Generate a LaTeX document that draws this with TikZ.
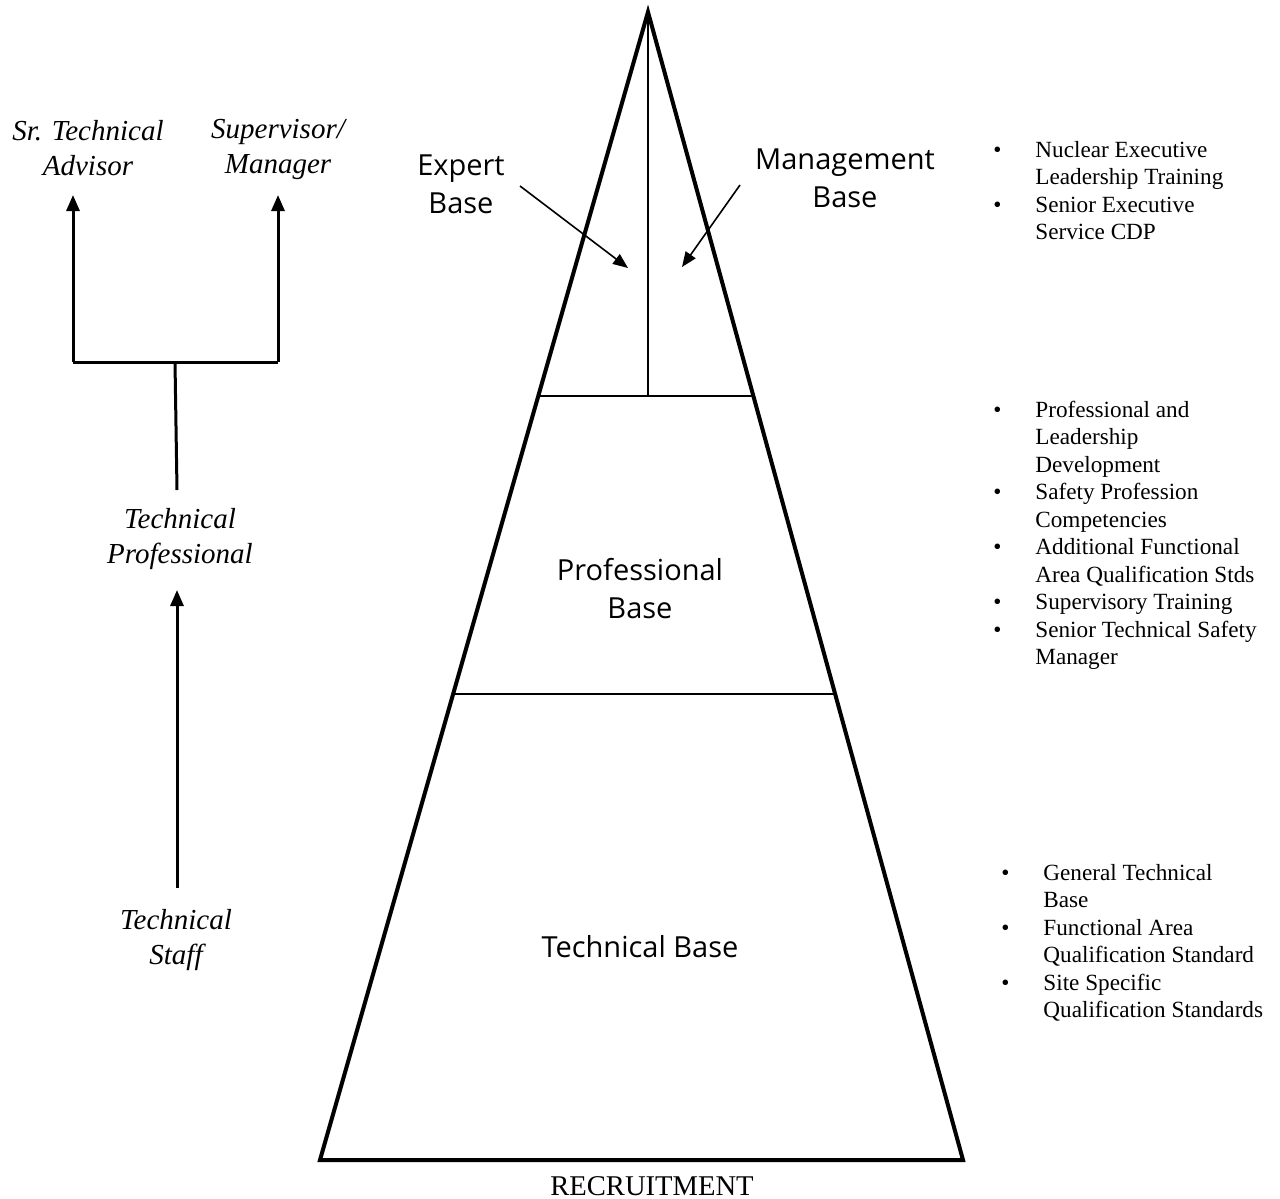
\documentclass[tikz,border=0pt]{standalone}
\usepackage{fontspec}
\setmainfont{Liberation Serif}
\newfontfamily\basefont{Open Sans}
\usetikzlibrary{arrows.meta}

\tikzset{
  rung/.style={font=\fontsize{14.5}{17.5}\selectfont\itshape, align=center},
  tier/.style={font=\basefont\fontsize{14.5}{19}\selectfont, align=center},
  itemlist/.style={font=\fontsize{11.6}{13.75}\selectfont, anchor=base west, inner sep=0pt},
  careerarrow/.style={line width=1.5pt, -{Triangle[length=8pt,width=6.5pt]}},
  pointer/.style={line width=0.8pt, -{Triangle[length=7.5pt,width=6pt]}},
}

\begin{document}
\begin{tikzpicture}[x=0.5pt,y=-0.5pt]
\useasboundingbox (0,0) rectangle (1280,1199);

% pyramid
\coordinate (apex) at (648,12);
\coordinate (bl) at (320,1160);
\coordinate (br) at (963,1160);
\draw[line width=2pt, line join=miter] (apex) -- (bl) -- (br) -- cycle;
\draw[line width=1pt] (538,396) -- (753,396);
\draw[line width=1pt] (453,694) -- (835,694);
\draw[line width=1pt] (apex) -- (648,396);

\node[tier] (expert) at (461,184) {Expert\\Base};
\node[tier] (mgmt) at (845,178) {Management\\Base};
\node[tier] (profbase) at (640,589) {Professional\\Base};
\node[tier] (techbase) at (640,947) {Technical Base};
\node[font=\fontsize{14.3}{16}\selectfont] (recruit) at (652,1186) {RECRUITMENT};

\coordinate (expTail) at (520,186);
\coordinate (expTip) at (628,268);
\coordinate (mgmtTail) at (740,185);
\coordinate (mgmtTip) at (682,267);
\draw[pointer] (expTail) -- (expTip);
\draw[pointer] (mgmtTail) -- (mgmtTip);

% career path
\node[rung] (advisor) at (88,148) {Sr. Technical\\Advisor};
\node[rung] (manager) at (278,149) {Supervisor/\\Manager};
\node[rung] (techprof) at (180,539) {Technical\\Professional};
\node[rung] (staff) at (176,940) {Technical\\Staff};

\coordinate (jl) at (73,362);
\coordinate (jr) at (278,362);
\coordinate (jm) at (175,362);
\coordinate (advTip) at (73,195);
\coordinate (mgrTip) at (278,195);
\coordinate (profTop) at (177,490);
\coordinate (staffTop) at (177,888);
\coordinate (profTip) at (177,590);

\draw[line width=1.5pt] (jl) -- (jr);
\draw[careerarrow] (jl) -- (advTip);
\draw[careerarrow] (jr) -- (mgrTip);
\draw[line width=1.5pt] (profTop) -- (jm);
\draw[careerarrow] (staffTop) -- (profTip);

% training lists
\node[itemlist] (exectrain) at (993,157) {%
  \begin{tabular}[t]{@{}p{21pt}@{}l@{}}
  \textbullet & Nuclear Executive\\
              & Leadership Training\\
  \textbullet & Senior Executive\\
              & Service CDP
  \end{tabular}};
\node[itemlist] (proftrain) at (993,417) {%
  \begin{tabular}[t]{@{}p{21pt}@{}l@{}}
  \textbullet & Professional and\\
              & Leadership\\
              & Development\\
  \textbullet & Safety Profession\\
              & Competencies\\
  \textbullet & Additional Functional\\
              & Area Qualification Stds\\
  \textbullet & Supervisory Training\\
  \textbullet & Senior Technical Safety\\
              & Manager
  \end{tabular}};
\node[itemlist] (techtrain) at (1001,880) {%
  \begin{tabular}[t]{@{}p{21pt}@{}l@{}}
  \textbullet & General Technical\\
              & Base\\
  \textbullet & Functional Area\\
              & Qualification Standard\\
  \textbullet & Site Specific\\
              & Qualification Standards
  \end{tabular}};
\end{tikzpicture}
\end{document}
